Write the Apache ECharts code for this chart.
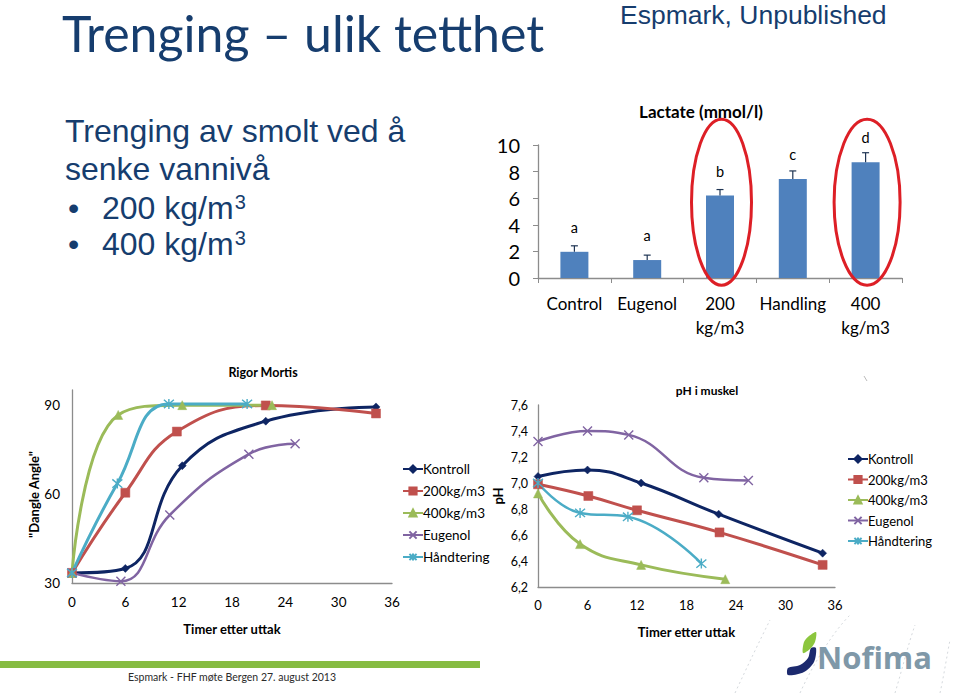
<!DOCTYPE html>
<html><head><meta charset="utf-8">
<script src="https://cdn.jsdelivr.net/npm/echarts@6/dist/echarts.min.js"></script>
<style>html,body{margin:0;padding:0;background:#fff;}#c{width:960px;height:693px;}</style>
</head><body><div id="c"></div>
<script>
// ---------- Lactate bar chart ----------
const lactCategories = ['Control', 'Eugenol', '200\nkg/m3', 'Handling', '400\nkg/m3'];
const lactMean = [1.97, 1.35, 6.2, 7.45, 8.7];
const lactSE = [0.45, 0.37, 0.45, 0.6, 0.72];
const lactLetters = ['a', 'a', 'b', 'c', 'd'];
const lactTicks = [0, 2, 4, 6, 8, 10];
// ---------- Rigor mortis (hours, dangle angle) ----------
const seriesNames = ['Kontroll', '200kg/m3', '400kg/m3', 'Eugenol', 'Håndtering'];
const rigorKontroll = [[0, 33.4], [6.0, 34.9], [12.4, 69.5], [21.8, 84.5], [34.2, 89.3]];
const rigor200 = [[0, 33.4], [6.0, 60.4], [11.8, 81.0], [21.8, 89.8], [34.2, 87.1]];
const rigor400 = [[0, 33.4], [5.2, 86.6], [12.4, 89.9], [22.5, 89.9]];
const rigorEugenol = [[0, 33.4], [5.5, 30.6], [11.0, 52.9], [19.9, 73.4], [25.1, 76.9]];
const rigorHandtering = [[0, 33.4], [5.1, 63.5], [10.9, 90.3], [19.7, 90.3]];
// ---------- pH in muscle ----------
const phKontroll = [[0, 7.05], [6.0, 7.10], [12.5, 7.00], [21.9, 6.76], [34.5, 6.46]];
const ph200 = [[0, 6.99], [6.1, 6.90], [12.0, 6.79], [22.0, 6.62], [34.5, 6.37]];
const ph400 = [[0, 6.92], [5.1, 6.53], [12.5, 6.37], [22.7, 6.26]];
const phEugenol = [[0, 7.32], [6.0, 7.40], [11.0, 7.37], [20.1, 7.04], [25.5, 7.02]];
const phHandtering = [[0, 7.00], [5.1, 6.77], [10.9, 6.74], [19.8, 6.38]];
const hourTicks = [0, 6, 12, 18, 24, 30, 36];

const colors = ['#0E2563', '#C0504D', '#9BBB59', '#8064A2', '#4BACC6'];
const symbols = ['diamond', 'rect', 'triangle', 'path://M0,0L10,10M10,0L0,10', 'path://M0,0L10,10M10,0L0,10M5,-1L5,11'];
const symbolSizes = [8, 9, 9, 9, 10];

const navy = '#163D6E';
const CAL = 'Lato, "Open Sans", sans-serif';
const ARIAL = '"Liberation Sans", Arial, sans-serif';
const axisGray = '#8C8C8C';

function lineSeries(name, idx, data, axisIdx, width) {
  return {
    name: name, type: 'line', xAxisIndex: axisIdx, yAxisIndex: axisIdx,
    data: data, smooth: 0.45, symbol: symbols[idx], symbolSize: symbolSizes[idx],
    lineStyle: { color: colors[idx], width: width },
    itemStyle: { color: colors[idx], borderColor: colors[idx], borderWidth: idx >= 3 ? 1.4 : 0.5 },
    emphasis: { disabled: true }, z: 3
  };
}

const chart = echarts.init(document.getElementById('c'), null, { renderer: 'svg' });

const option = {
  animation: false,
  backgroundColor: '#fff',
  textStyle: { fontFamily: CAL },
  grid: [
    { left: 538, top: 145, width: 364, height: 133 },
    { left: 72, top: 390, width: 320, height: 193 },
    { left: 538, top: 405, width: 297, height: 182 }
  ],
  xAxis: [
    { gridIndex: 0, type: 'category', data: lactCategories,
      axisLine: { lineStyle: { color: axisGray, width: 1.3 } },
      axisTick: { show: true, length: 5, alignWithLabel: false, lineStyle: { color: axisGray } },
      axisLabel: { fontSize: 17, lineHeight: 24, color: '#000', margin: 13, fontFamily: CAL, interval: 0 } },
    { gridIndex: 1, type: 'value', min: 0, max: 36, interval: 6,
      axisLine: { show: true, onZero: false, lineStyle: { color: axisGray, width: 1.3 } },
      axisTick: { show: false }, splitLine: { show: false },
      axisLabel: { fontSize: 13.5, color: '#000', margin: 12, fontFamily: CAL },
      name: 'Timer etter uttak', nameLocation: 'middle', nameGap: 39,
      nameTextStyle: { fontSize: 13, fontWeight: 'bold', color: '#000', fontFamily: CAL } },
    { gridIndex: 2, type: 'value', min: 0, max: 36, interval: 6,
      axisLine: { show: true, onZero: false, lineStyle: { color: axisGray, width: 1.3 } },
      axisTick: { show: false }, splitLine: { show: false },
      axisLabel: { fontSize: 13, color: '#000', margin: 11, fontFamily: CAL },
      name: 'Timer etter uttak', nameLocation: 'middle', nameGap: 38,
      nameTextStyle: { fontSize: 13, fontWeight: 'bold', color: '#000', fontFamily: CAL } }
  ],
  yAxis: [
    { gridIndex: 0, type: 'value', min: lactTicks[0], max: lactTicks[lactTicks.length - 1], interval: 2,
      axisLine: { show: true, lineStyle: { color: axisGray, width: 1.3 } },
      axisTick: { show: true, length: 5, lineStyle: { color: axisGray } }, splitLine: { show: false },
      axisLabel: { fontSize: 20, color: '#000', margin: 18, fontFamily: CAL } },
    { gridIndex: 1, type: 'value', min: 30, max: 95, interval: 30,
      axisLine: { show: true, onZero: false, lineStyle: { color: axisGray, width: 1.3 } },
      axisTick: { show: false }, splitLine: { show: false },
      axisLabel: { fontSize: 13.5, color: '#000', margin: 12, showMaxLabel: false, fontFamily: CAL },
      name: '"Dangle Angle"', nameLocation: 'middle', nameRotate: 90, nameGap: 27,
      nameTextStyle: { fontSize: 13, fontWeight: 'bold', color: '#000', fontFamily: CAL, padding: [0, 0, 0, -16] } },
    { gridIndex: 2, type: 'value', min: 6.2, max: 7.6, interval: 0.2,
      axisLine: { show: true, onZero: false, lineStyle: { color: axisGray, width: 1.3 } },
      axisTick: { show: false }, splitLine: { show: false },
      axisLabel: { fontSize: 12.5, color: '#000', margin: 10, fontFamily: CAL,
        formatter: v => v.toFixed(1).replace('.', ',') },
      name: 'pH', nameLocation: 'middle', nameRotate: 90, nameGap: 34,
      nameTextStyle: { fontSize: 13, fontWeight: 'bold', color: '#000', fontFamily: CAL } }
  ],
  legend: [
    { orient: 'vertical', left: 397, top: 457, itemWidth: 20, itemHeight: 9, itemGap: 8,
      data: seriesNames, selectedMode: false,
      textStyle: { fontSize: 13.5, color: '#000', fontFamily: CAL, lineHeight: 14, padding: [0, 0, 0, -5] } },
    { orient: 'vertical', left: 842, top: 447, itemWidth: 20, itemHeight: 9, itemGap: 6.5,
      data: seriesNames, selectedMode: false,
      textStyle: { fontSize: 13, color: '#000', fontFamily: CAL, lineHeight: 14, padding: [0, 0, 0, -5] } }
  ],
  series: [
    { name: 'Lactate', type: 'bar', xAxisIndex: 0, yAxisIndex: 0, data: lactMean, barWidth: 28,
      itemStyle: { color: '#4F81BD' }, emphasis: { disabled: true },
      label: { show: true, position: 'top', distance: 17, fontSize: 14.5, color: '#000', fontFamily: CAL,
        formatter: p => lactLetters[p.dataIndex] } },
    { name: 'LactateErr', type: 'custom', xAxisIndex: 0, yAxisIndex: 0, z: 4,
      data: lactMean.map((v, i) => [i, v, v + lactSE[i]]),
      renderItem: function (params, api) {
        const base = api.coord([api.value(0), api.value(1)]);
        const top = api.coord([api.value(0), api.value(2)]);
        const st = { stroke: '#1F3554', lineWidth: 1.2 };
        return { type: 'group', children: [
          { type: 'line', shape: { x1: base[0], y1: base[1], x2: top[0], y2: top[1] }, style: st },
          { type: 'line', shape: { x1: top[0] - 3.5, y1: top[1], x2: top[0] + 3.5, y2: top[1] }, style: st }
        ] };
      } },
    lineSeries(seriesNames[0], 0, rigorKontroll, 1, 3),
    lineSeries(seriesNames[1], 1, rigor200, 1, 3),
    lineSeries(seriesNames[2], 2, rigor400, 1, 3),
    lineSeries(seriesNames[3], 3, rigorEugenol, 1, 2.5),
    lineSeries(seriesNames[4], 4, rigorHandtering, 1, 3),
    lineSeries(seriesNames[0], 0, phKontroll, 2, 3),
    lineSeries(seriesNames[1], 1, ph200, 2, 3),
    lineSeries(seriesNames[2], 2, ph400, 2, 3),
    lineSeries(seriesNames[3], 3, phEugenol, 2, 2.5),
    lineSeries(seriesNames[4], 4, phHandtering, 2, 2.5)
  ]
};
chart.setOption(option);

// Annotation ellipses positioned through the bar chart's own axes
const e200 = chart.convertToPixel({ xAxisIndex: 0, yAxisIndex: 0 }, [2, 5.7]);
const e400 = chart.convertToPixel({ xAxisIndex: 0, yAxisIndex: 0 }, [4, 5.7]);

function txt(text, x, y, font, fill, align) {
  return { type: 'text', x: x, y: y, style: { text: text, fill: fill, font: font, textAlign: align || 'left', textVerticalAlign: 'middle' } };
}
const supRich = {
  a: { font: '32px ' + ARIAL, fill: navy, color: navy },
  s: { font: '20px ' + ARIAL, fill: navy, color: navy, verticalAlign: 'top', padding: [0, 0, 0, 1] }
};
const dashStyle = { stroke: '#C9CED3', lineWidth: 0.8, lineDash: [2, 3], fill: 'none' };

chart.setOption({
  graphic: [
    txt('Trenging – ulik tetthet', 62, 33, '50px ' + CAL, navy),
    txt('Espmark, Unpublished', 620, 15, '26.5px "Liberation Sans Narrow", "Arial Narrow", ' + ARIAL, navy),
    txt('Trenging av smolt ved å', 65, 131, '32px ' + ARIAL, navy),
    txt('senke vannivå', 65, 169, '32px ' + ARIAL, navy),
    txt('•', 68, 208, '32px ' + ARIAL, navy),
    txt('•', 68, 244, '32px ' + ARIAL, navy),
    { type: 'text', x: 102, y: 208, style: { text: '{a|200 kg/m}{s|3}', rich: supRich, fill: navy, textVerticalAlign: 'middle' } },
    { type: 'text', x: 102, y: 244, style: { text: '{a|400 kg/m}{s|3}', rich: supRich, fill: navy, textVerticalAlign: 'middle' } },
    txt('Lactate (mmol/l)', 701, 111, 'bold 17px ' + CAL, '#000', 'center'),
    txt('Rigor Mortis', 263, 372, 'bold 12.5px ' + CAL, '#000', 'center'),
    txt('pH i muskel', 707, 390, 'bold 12px ' + CAL, '#000', 'center'),
    { type: 'ellipse', shape: { cx: e200[0] + 1.5, cy: e200[1], rx: 30, ry: 83 }, style: { fill: 'none', stroke: '#DD1F26', lineWidth: 3 }, z: 10 },
    { type: 'ellipse', shape: { cx: e400[0] + 1.5, cy: e400[1], rx: 33, ry: 83 }, style: { fill: 'none', stroke: '#DD1F26', lineWidth: 3 }, z: 10 },
    { type: 'rect', shape: { x: 0, y: 661, width: 480, height: 7 }, style: { fill: '#86BC42' } },
    txt('Espmark - FHF møte Bergen 27. august 2013', 128, 677, '10.5px ' + CAL, '#2B2B2B'),
    { type: 'bezierCurve', shape: { x1: 735, y1: 693, x2: 770, y2: 620, cpx1: 748, cpy1: 665, cpx2: 760, cpy2: 640 }, style: dashStyle },
    { type: 'bezierCurve', shape: { x1: 800, y1: 693, x2: 850, y2: 615, cpx1: 815, cpy1: 660, cpx2: 835, cpy2: 630 }, style: dashStyle },
    { type: 'bezierCurve', shape: { x1: 895, y1: 693, x2: 915, y2: 625, cpx1: 902, cpy1: 670, cpx2: 908, cpy2: 645 }, style: dashStyle },
    { type: 'bezierCurve', shape: { x1: 940, y1: 693, x2: 950, y2: 640, cpx1: 944, cpy1: 675, cpx2: 947, cpy2: 655 }, style: dashStyle },
    { type: 'polygon', shape: { points: [[788, 668], [800, 665], [808, 658], [811, 648], [816, 648], [814, 662], [804, 672], [788, 675]], smooth: 0.3 }, style: { fill: '#1C2A6E' } },
    { type: 'polygon', shape: { points: [[803, 653], [804, 642], [809, 636], [816, 632], [815, 642], [810, 649]], smooth: 0.3 }, style: { fill: '#8CC63E' } },
    txt('Nofima', 817, 657, 'bold 31px "Open Sans", ' + CAL, '#7F98A8'),
    { type: 'line', shape: { x1: 864, y1: 376, x2: 867, y2: 381 }, style: { stroke: '#BBB', lineWidth: 1 } }
  ]
});
</script></body></html>
